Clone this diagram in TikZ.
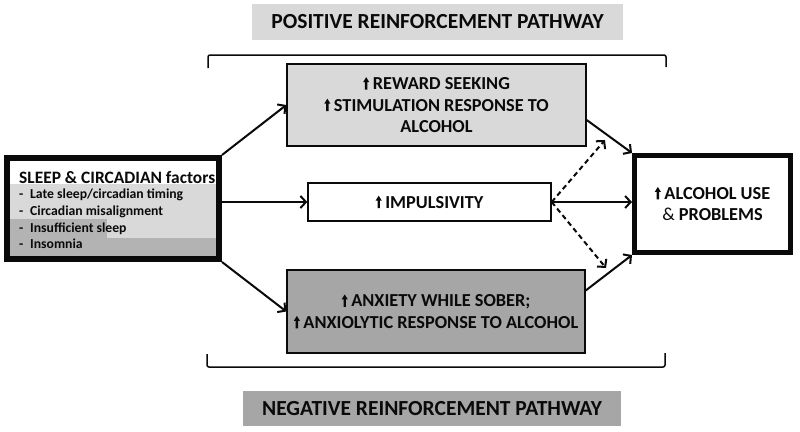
\documentclass[tikz,border=0pt]{standalone}
\usepackage{fontspec}
\setmainfont{Carlito}
\usetikzlibrary{arrows.meta,calc}
\definecolor{lgray}{HTML}{D9D9D9}
\definecolor{dgray}{HTML}{A6A6A6}
\definecolor{mgray}{HTML}{B3B3B3}
\definecolor{ink}{HTML}{0A0A0A}
\newcommand{\upa}{\tikz[baseline=0pt]\fill[ink] (-1.2pt,0pt)--(1.2pt,0pt)--(1.2pt,7.5pt)--(3.1pt,7.5pt)--(0pt,12.5pt)--(-3.1pt,7.5pt)--(-1.2pt,7.5pt)--cycle;\hspace{3.5pt}}
\tikzset{
  box/.style={draw=ink, line width=1.4pt, rectangle, inner sep=0pt, align=center, text=ink,
    font=\fontsize{18.3}{21.5}\selectfont\bfseries},
  bigbox/.style={box, line width=5pt},
  lab/.style={rectangle, inner sep=0pt, text=ink, font=\fontsize{21.5}{24}\selectfont\bfseries},
  conn/.style={draw=ink, line width=2pt, -{Straight Barb[length=5.5pt,width=12pt,line width=2pt]}},
  dconn/.style={conn, dash pattern=on 5pt off 3.5pt},
  brk/.style={draw=ink, line width=1.5pt, rounded corners=2pt},
  listtxt/.style={inner sep=0pt, anchor=base west, text=ink, font=\fontsize{13.7}{16}\selectfont\bfseries}
}
\begin{document}
\begin{tikzpicture}[x=1pt,y=-1pt]
\useasboundingbox (0,0) rectangle (800,431);
\fill[white] (0,0) rectangle (800,431);
% pathway labels
\node[lab, fill=lgray, minimum width=371pt, minimum height=36pt] (pos) at (437.5,22) {POSITIVE REINFORCEMENT PATHWAY};
\node[lab, fill=dgray, minimum width=378pt, minimum height=35pt] (neg) at (432,408.5) {NEGATIVE REINFORCEMENT PATHWAY};
% brackets
\draw[brk] (208,68) -- (208,55) -- (666,55) -- (666,67);
\draw[brk] (207,354) -- (207,367) -- (665,367) -- (665,353);
% sleep box interior shading
\fill[lgray] (10,184) rectangle (216,256);
\fill[mgray] (10,219) rectangle (107,256);
\fill[mgray] (10,238) rectangle (216,256);
\node[bigbox, line width=6pt, minimum width=212pt, minimum height=101pt] (sleep) at (113,208.5) {};
\node[inner sep=0pt, anchor=base west, text=ink, font=\fontsize{17.4}{20}\selectfont\bfseries] (stitle) at (19,183) {SLEEP \& CIRCADIAN factors};
\node[listtxt] (d1) at (19,198) {-};
\node[listtxt] (l1) at (30,198) {Late sleep/circadian timing};
\node[listtxt] (d2) at (19,215) {-};
\node[listtxt] (l2) at (30,215) {Circadian misalignment};
\node[listtxt] (d3) at (19,232) {-};
\node[listtxt] (l3) at (30,232) {Insufficient sleep};
\node[listtxt] (d4) at (19,248) {-};
\node[listtxt] (l4) at (30,248) {Insomnia};
% middle boxes
\node[box, fill=lgray, minimum width=299pt, minimum height=82pt] (reward) at (436.5,105) {\upa REWARD SEEKING\\ \upa STIMULATION RESPONSE TO\\ ALCOHOL};
\node[box, fill=white, minimum width=243pt, minimum height=38pt] (imp) at (429.5,202) {\upa IMPULSIVITY};
\node[box, fill=dgray, minimum width=298pt, minimum height=83pt] (anx) at (436,311.5) {\upa ANXIETY WHILE SOBER;\\ \upa ANXIOLYTIC RESPONSE TO ALCOHOL};
% outcome
\node[bigbox, fill=white, minimum width=156pt, minimum height=97pt] (alc) at (712.5,204) {\upa ALCOHOL USE\\ {\mdseries\&} PROBLEMS};
% connectors
\draw[conn] (sleep.north east) -- (reward.west);
\draw[conn] (sleep.east |- imp.west) -- (imp.west);
\draw[conn] (sleep.south east) -- (anx.west);
\draw[conn] ([yshift=-15pt]reward.east) -- (alc.north west);
\draw[conn] (imp.east) -- (alc.west |- imp.east);
\draw[conn] ([yshift=21pt]anx.east) -- (alc.south west);
\coordinate (dtop) at (605,140);
\coordinate (dbot) at (606,268);
\draw[dconn] (imp.east) -- (dtop);
\draw[dconn] (imp.east) -- (dbot);
\end{tikzpicture}
\end{document}
